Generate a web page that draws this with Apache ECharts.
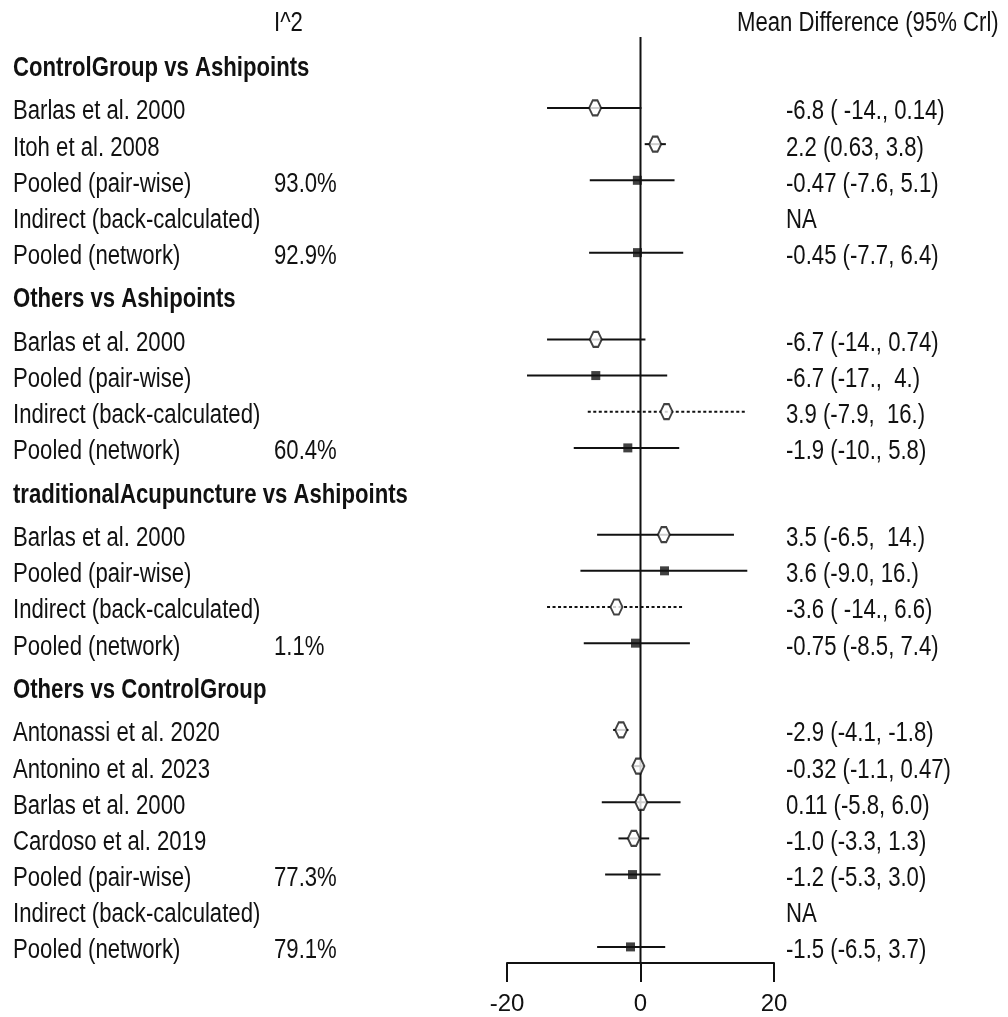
<!DOCTYPE html>
<html>
<head>
<meta charset="utf-8">
<script src="https://cdn.jsdelivr.net/npm/echarts@6/dist/echarts.min.js"></script>
<style>
  html, body { margin: 0; padding: 0; background: #fff; }
  #chart { width: 1008px; height: 1017px; }
</style>
</head>
<body>
<div id="chart"></div>
<script>
// comparisons (group headers)
const groupTitles = [
  'ControlGroup vs Ashipoints',
  'Others vs Ashipoints',
  'traditionalAcupuncture vs Ashipoints',
  'Others vs ControlGroup'
]
const groupIndex = [0, 0, 0, 0, 0, 1, 1, 1, 1, 2, 2, 2, 2, 3, 3, 3, 3, 3, 3, 3]
const rowNames = [
  'Barlas et al. 2000', 'Itoh et al. 2008', 'Pooled (pair-wise)', 'Indirect (back-calculated)', 'Pooled (network)',
  'Barlas et al. 2000', 'Pooled (pair-wise)', 'Indirect (back-calculated)', 'Pooled (network)',
  'Barlas et al. 2000', 'Pooled (pair-wise)', 'Indirect (back-calculated)', 'Pooled (network)',
  'Antonassi et al. 2020', 'Antonino et al. 2023', 'Barlas et al. 2000', 'Cardoso et al. 2019',
  'Pooled (pair-wise)', 'Indirect (back-calculated)', 'Pooled (network)'
]
// study | pairwise | indirect | network
const rowKinds = [
  'study', 'study', 'pairwise', 'indirect', 'network',
  'study', 'pairwise', 'indirect', 'network',
  'study', 'pairwise', 'indirect', 'network',
  'study', 'study', 'study', 'study', 'pairwise', 'indirect', 'network'
]
const means = [-6.8, 2.2, -0.47, null, -0.45, -6.7, -6.7, 3.9, -1.9, 3.5, 3.6, -3.6, -0.75, -2.9, -0.32, 0.11, -1.0, -1.2, null, -1.5]
const lowers = [-14, 0.63, -7.6, null, -7.7, -14, -17, -7.9, -10, -6.5, -9.0, -14, -8.5, -4.1, -1.1, -5.8, -3.3, -5.3, null, -6.5]
const uppers = [0.14, 3.8, 5.1, null, 6.4, 0.74, 4, 16, 5.8, 14, 16, 6.6, 7.4, -1.8, 0.47, 6.0, 1.3, 3.0, null, 3.7]
const i2Labels = ['', '', '93.0%', '', '92.9%', '', '', '', '60.4%', '', '', '', '1.1%', '', '', '', '', '77.3%', '', '79.1%']
const ciLabels = [
  '-6.8 ( -14., 0.14)', '2.2 (0.63, 3.8)', '-0.47 (-7.6, 5.1)', 'NA', '-0.45 (-7.7, 6.4)',
  '-6.7 (-14., 0.74)', '-6.7 (-17.,  4.)', '3.9 (-7.9,  16.)', '-1.9 (-10., 5.8)',
  '3.5 (-6.5,  14.)', '3.6 (-9.0, 16.)', '-3.6 ( -14., 6.6)', '-0.75 (-8.5, 7.4)',
  '-2.9 (-4.1, -1.8)', '-0.32 (-1.1, 0.47)', '0.11 (-5.8, 6.0)', '-1.0 (-3.3, 1.3)',
  '-1.2 (-5.3, 3.0)', 'NA', '-1.5 (-6.5, 3.7)'
]
const xMin = -20
const xMax = 20
const xStep = 20

const FONT = '"Liberation Sans", Arial, sans-serif'
const SQUEEZE = 0.82 // the original text is condensed
const INK = '#111'
const OPEN_MARK = 'path://M3,0 L7,0 L10,6.5 L7,13 L3,13 L0,6.5 Z'

// row positions (in row units), a little extra room round the headers
const rows = []
let pos = 0
let lastGroup = -1
rowNames.forEach(function(name, i) {
  if (groupIndex[i] !== lastGroup) {
    if (lastGroup !== -1) pos += 1.2
    rows.push({ header: true, text: groupTitles[groupIndex[i]], pos: pos })
    pos += 1.2
    lastGroup = groupIndex[i]
  } else {
    pos += 1
  }
  rows.push({ header: false, i: i, pos: pos })
})
const yTop = -0.763
const yBottom = pos + 0.445

const ciData = []
const openPts = []
const filledPts = []
rows.forEach(function(r) {
  if (r.header || means[r.i] === null) return
  const dotted = rowKinds[r.i] === 'indirect' ? 1 : 0
  ciData.push([lowers[r.i], uppers[r.i], r.pos, dotted])
  if (rowKinds[r.i] === 'study' || rowKinds[r.i] === 'indirect') {
    openPts.push([means[r.i], r.pos])
  } else {
    filledPts.push([means[r.i], r.pos])
  }
})

function textEl(x, y, str, bold) {
  return {
    type: 'text',
    x: x,
    y: y,
    scaleX: SQUEEZE,
    style: {
      text: str,
      fontSize: 27,
      fontFamily: FONT,
      fontWeight: bold ? 'bold' : 'normal',
      fill: INK,
      textAlign: 'left',
      verticalAlign: 'middle'
    }
  }
}

const chart = echarts.init(document.getElementById('chart'))
chart.setOption({
  animation: false,
  backgroundColor: '#fff',
  grid: { left: 507, width: 267, top: 37, height: 926 },
  xAxis: {
    type: 'value',
    min: xMin,
    max: xMax,
    interval: xStep,
    axisLine: { show: true, onZero: false, lineStyle: { color: INK, width: 2 } },
    axisTick: { show: true, length: 19, lineStyle: { color: INK, width: 2 } },
    axisLabel: { fontSize: 24, fontFamily: '"Liberation Sans Narrow", ' + FONT, color: INK, margin: 29 },
    splitLine: { show: false }
  },
  yAxis: {
    type: 'value',
    inverse: true,
    min: yTop,
    max: yBottom,
    show: false
  },
  graphic: [
    textEl(274, 24, 'I^2', false),
    textEl(737, 24, 'Mean Difference (95% Crl)', false)
  ],
  series: [
    {
      // line of no effect
      type: 'line',
      data: [[0, yTop], [0, yBottom]],
      symbol: 'none',
      silent: true,
      lineStyle: { color: INK, width: 2 }
    },
    {
      type: 'custom',
      data: ciData,
      encode: { x: [0, 1], y: 2 },
      silent: true,
      renderItem: function(params, api) {
        const a = api.coord([api.value(0), api.value(2)])
        const b = api.coord([api.value(1), api.value(2)])
        return {
          type: 'line',
          shape: { x1: a[0], y1: a[1], x2: b[0], y2: b[1] },
          style: { stroke: INK, lineWidth: 2, lineDash: api.value(3) ? [3, 2.5] : null }
        }
      }
    },
    {
      type: 'scatter',
      data: openPts,
      z: 4,
      symbol: OPEN_MARK,
      symbolSize: [12, 15],
      itemStyle: { color: '#fff', borderColor: INK, borderWidth: 2 },
      silent: true
    },
    {
      type: 'scatter',
      data: filledPts,
      z: 4,
      symbol: 'rect',
      symbolSize: 9,
      itemStyle: { color: INK },
      silent: true
    },
    {
      // text columns
      type: 'custom',
      data: rows.map(function(r) { return [0, r.pos] }),
      encode: { x: 0, y: 1 },
      silent: true,
      clip: false,
      renderItem: function(params, api) {
        const r = rows[params.dataIndex]
        const y = api.coord([0, r.pos])[1] + 4
        if (r.header) {
          return textEl(13, y, r.text, true)
        }
        return {
          type: 'group',
          children: [
            textEl(13, y, rowNames[r.i], false),
            textEl(274, y, i2Labels[r.i], false),
            textEl(786, y, ciLabels[r.i], false)
          ]
        }
      }
    }
  ]
})
</script>
</body>
</html>
